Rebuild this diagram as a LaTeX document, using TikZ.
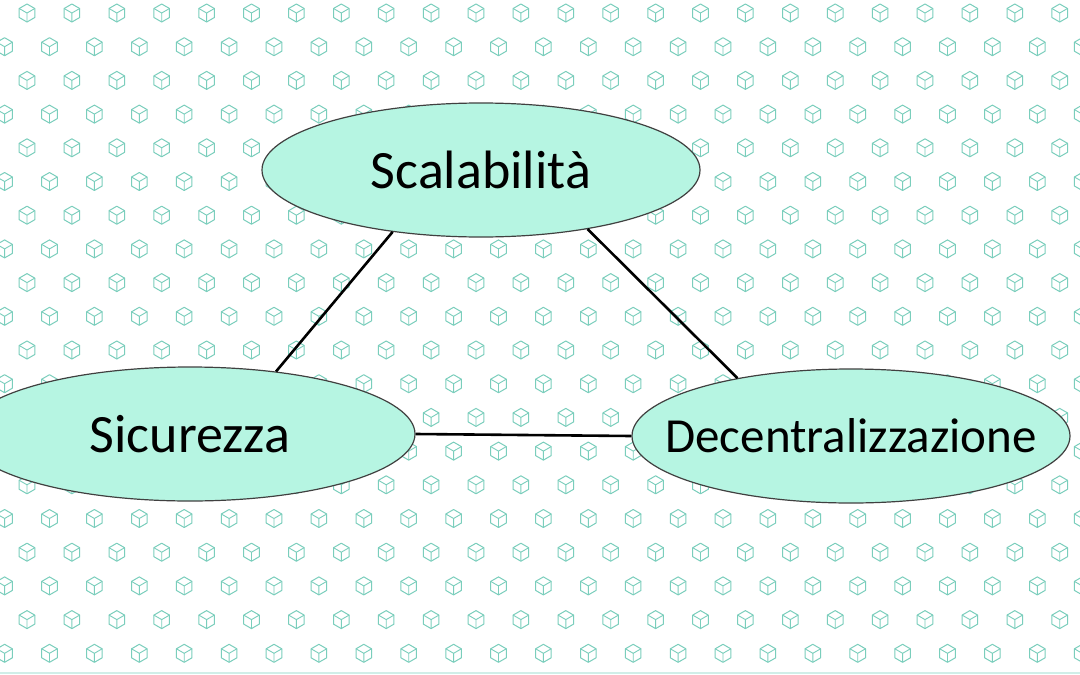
\documentclass[tikz,border=0pt]{standalone}
\usepackage{fontspec}
\setmainfont{Carlito}
\usepackage{tikz}
\usetikzlibrary{shapes.geometric,calc}
\usepackage{xcolor}
\definecolor{mintfill}{RGB}{182,245,226}
\definecolor{cubeline}{RGB}{122,206,188}
\tikzset{
  topic/.style={ellipse,draw=black!75,line width=1.2pt,fill=mintfill,
    minimum width=438pt,minimum height=134pt,inner sep=0pt,
    font=\fontsize{54}{64}\selectfont},
  link/.style={draw,line width=2.6pt,black},
  blockcube/.pic={
    \draw[cubeline,line width=1pt,line join=round]
      (30:9)--(90:9)--(150:9)--(210:9)--(270:9)--(330:9)--cycle;
    \draw[cubeline,line width=0.9pt] (0,0)--(210:9) (0,0)--(330:9) (0,0)--(90:9);
  },
}

\begin{document}
\begin{tikzpicture}[x=1pt,y=-1pt]

\useasboundingbox (0,0) rectangle (1080,675);
\fill[white] (0,0) rectangle (1080,675);

% background pattern of small cubes, odd rows shifted by half a step
\foreach \r in {0,...,19}{
  \foreach \c in {0,...,24}{
    \pic at ({27+44.9*\c-22.4*mod(\r,2)},{13+33.7*\r}) {blockcube};
  }
}
\draw[cubeline!35,line width=2pt] (0,673) -- (1080,673);

% the three corners of the triangle
\node[topic] (scal) at (481,170) {Scalabilità};
\node[topic,minimum width=450pt] (sic) at (190,434) {Sicurezza};
\node[topic,inner xsep=-36pt,font=\fontsize{49}{58}\selectfont] (dec) at (851,436) {Decentralizzazione};

% sides
\path[link]
(scal.215) -- (sic.36)
(scal.331) -- (dec.153)
(sic.east) -- (dec.west);

\end{tikzpicture}
\end{document}
